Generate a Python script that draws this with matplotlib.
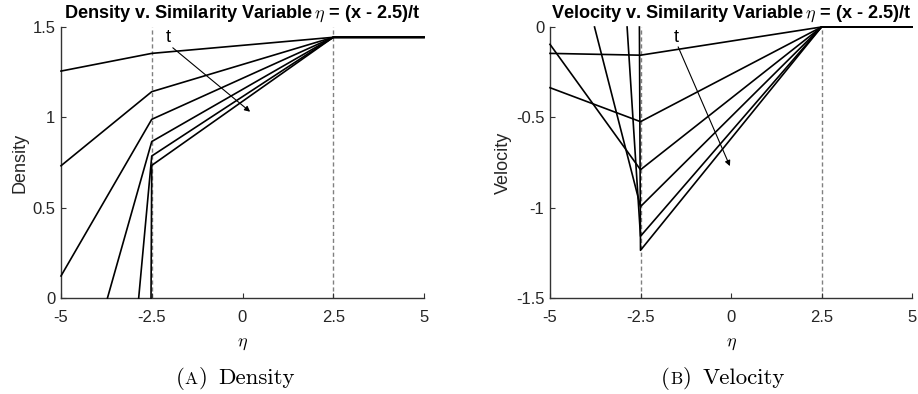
import matplotlib
matplotlib.use("Agg")
import matplotlib.pyplot as plt

plt.rcParams['font.family'] = ['Liberation Sans', 'DejaVu Sans']
plt.rcParams['mathtext.fontset'] = 'cm'
plt.rcParams['axes.unicode_minus'] = False

# ---- data ----
eta_ticks = [-5, -2.5, 0, 2.5, 5]
eta_tick_labels = ["-5", "-2.5", "0", "2.5", "5"]
eta_shock = -2.5
eta_front = 2.5
eta_max = 5.0

density_eta_start = [-5.0, -5.0, -5.0, -3.72, -2.86, -2.52]
density_start = [1.256, 0.732, 0.122, 0.0, 0.0, 0.0]
density_at_shock = [1.354, 1.142, 0.989, 0.866, 0.786, 0.734]
density_far = 1.443
density_ticks = [0, 0.5, 1, 1.5]
density_tick_labels = ["0", "0.5", "1", "1.5"]

velocity_eta_start = [-5.0, -5.0, -5.0, -3.77, -2.87, -2.53]
velocity_start = [-0.146, -0.336, -0.096, 0.0, 0.0, 0.0]
velocity_at_shock = [-0.156, -0.524, -0.790, -0.994, -1.158, -1.236]
velocity_far = 0.0
velocity_ticks = [-1.5, -1, -0.5, 0]
velocity_tick_labels = ["-1.5", "-1", "-0.5", "0"]

W, H = 918, 394
fig = plt.figure(figsize=(W / 100, H / 100), dpi=100)

ax1 = fig.add_axes([61 / W, 1 - 298 / H, 363 / W, 271 / H])
ax2 = fig.add_axes([550 / W, 1 - 298 / H, 362 / W, 271 / H])

spine_col = '#333333'


def style(ax, yticks, ylabels, ylim, ylabel, title):
    ax.set_xlim(-5, 5)
    ax.set_ylim(*ylim)
    ax.set_xticks(eta_ticks)
    ax.set_xticklabels(eta_tick_labels)
    ax.set_yticks(yticks)
    ax.set_yticklabels(ylabels)
    for s in ['top', 'right']:
        ax.spines[s].set_visible(False)
    for s in ['left', 'bottom']:
        ax.spines[s].set_color(spine_col)
        ax.spines[s].set_linewidth(1.0)
    ax.tick_params(direction='in', length=3.5, width=0.8, color=spine_col,
                   labelsize=12, labelcolor='#262626')
    ax.tick_params(axis='x', pad=8.5)
    ax.tick_params(axis='y', pad=4)
    ax.set_xlabel(r'$\eta$', fontsize=13, labelpad=7)
    ax.set_ylabel(ylabel, fontsize=13, color='#262626', labelpad=3)
    ax.set_title(title, fontsize=13.1, fontweight='bold', pad=6.5)
    for xv in (eta_shock, eta_front):
        ax.axvline(xv, color='#808080', lw=1.0, ls=(0, (3, 2)), zorder=1)


def curves(ax, starts_eta, starts, shocks, far):
    for e0, v0, vs in zip(starts_eta, starts, shocks):
        ax.plot([e0, eta_shock, eta_front, eta_max], [v0, vs, far, far],
                color='k', lw=1.2, clip_on=False, zorder=3)


curves(ax1, density_eta_start, density_start, density_at_shock, density_far)
curves(ax2, velocity_eta_start, velocity_start, velocity_at_shock, velocity_far)

style(ax1, density_ticks, density_tick_labels, (0, 1.5), 'Density',
      r'Density v. Similarity Variable$\,\eta$ = (x - 2.5)/t')
style(ax2, velocity_ticks, velocity_tick_labels, (-1.5, 0), 'Velocity',
      r'Velocity v. Similarity Variable$\,\eta$ = (x - 2.5)/t')

arrow_kw = dict(arrowstyle='-|>', lw=0.8, color='k', mutation_scale=8,
                shrinkA=0, shrinkB=0)
ax1.annotate('', xy=(0.21, 1.031), xytext=(-1.92, 1.385), arrowprops=arrow_kw)
ax1.text(-2.04, 1.44, 't', fontsize=13, ha='center', va='center')
ax2.annotate('', xy=(-0.03, -0.77), xytext=(-1.46, -0.11), arrowprops=arrow_kw)
ax2.text(-1.52, -0.057, 't', fontsize=13, ha='center', va='center')

# captions with small-caps letter
fig.canvas.draw()
renderer = fig.canvas.get_renderer()


def caption(cx_px, letter, word):
    parts = [('(', 16.5, 0), (letter, 12.5, 0.5), (')', 16.5, 0.5), (word, 16.5, 11)]
    texts = []
    for s, fs, gap in parts:
        t = fig.text(0, 1 - 384 / H, s, fontsize=fs, family='cmr10',
                     va='baseline', ha='left')
        texts.append((t, gap))
    widths = [t.get_window_extent(renderer).width for t, g in texts]
    total = sum(widths) + sum(g for t, g in texts)
    x = cx_px - total / 2
    for (t, g), w in zip(texts, widths):
        x += g
        t.set_x(x / W)
        x += w


caption(235, 'A', 'Density')
caption(722.8, 'B', 'Velocity')

fig.savefig('out.png', dpi=100)
